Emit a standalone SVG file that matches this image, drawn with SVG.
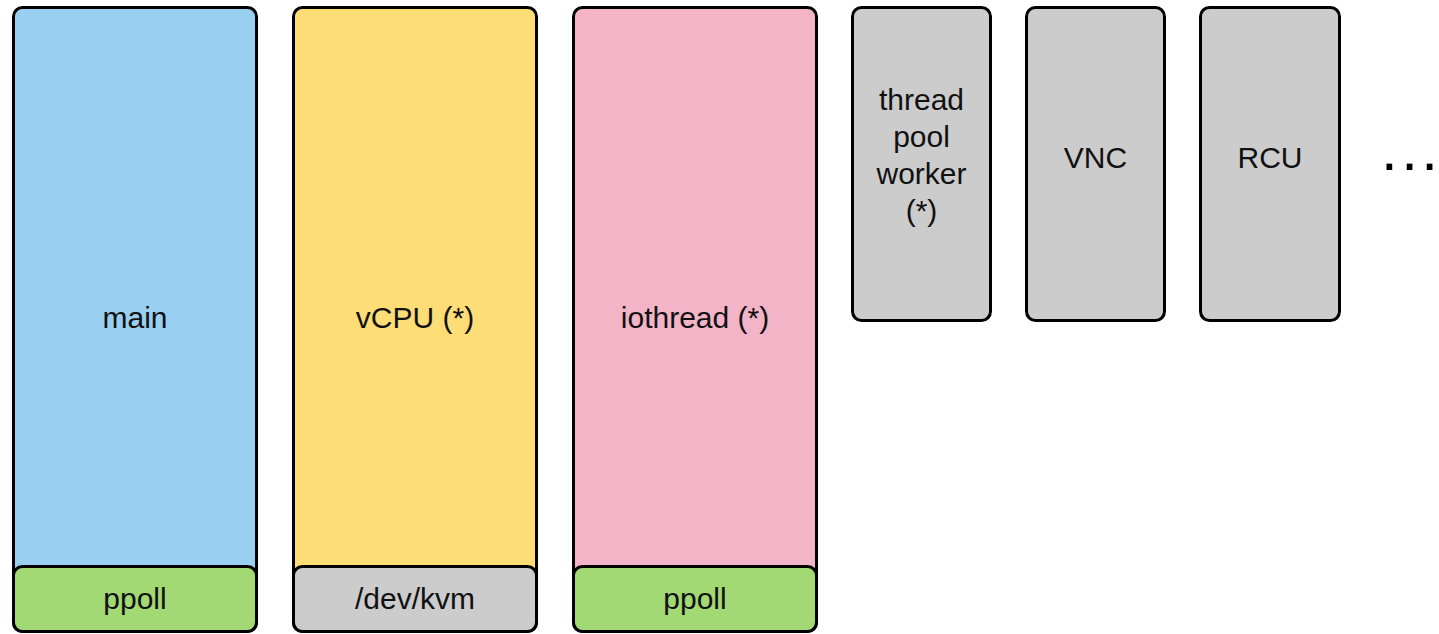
<svg xmlns="http://www.w3.org/2000/svg" width="1439" height="634" viewBox="0 0 1439 634">
  <style>
    .box { stroke: #000; stroke-width: 3; }
    .blue { fill: #99d0f2; }
    .yellow { fill: #fedd77; }
    .pink { fill: #f3b4c8; }
    .green { fill: #a2d975; }
    .grey { fill: #cccccc; }
    text { font-family: "Liberation Sans", Arial, sans-serif; font-size: 30px; fill: #111; text-anchor: middle; }
  </style>
  <rect width="1439" height="634" fill="#fff"/>

  <g id="main">
    <rect class="box blue" x="13.5" y="7.5" width="243" height="624" rx="9"/>
    <rect class="box green" x="13.5" y="566.5" width="243" height="65" rx="9"/>
    <text x="135" y="328">main</text>
    <text x="135" y="609">ppoll</text>
  </g>

  <g id="vcpu">
    <rect class="box yellow" x="293.5" y="7.5" width="243" height="624" rx="9"/>
    <rect class="box grey" x="293.5" y="566.5" width="243" height="65" rx="9"/>
    <text x="415" y="328">vCPU (*)</text>
    <text x="415" y="609">/dev/kvm</text>
  </g>

  <g id="iothread">
    <rect class="box pink" x="573.5" y="7.5" width="243" height="624" rx="9"/>
    <rect class="box green" x="573.5" y="566.5" width="243" height="65" rx="9"/>
    <text x="695" y="328">iothread (*)</text>
    <text x="695" y="609">ppoll</text>
  </g>

  <g id="thread-pool-worker">
    <rect class="box grey" x="852.5" y="7.5" width="138" height="313" rx="9"/>
    <text x="921.5" y="110">thread</text>
    <text x="921.5" y="147">pool</text>
    <text x="921.5" y="184">worker</text>
    <text x="921.5" y="221">(*)</text>
  </g>

  <g id="vnc">
    <rect class="box grey" x="1026.5" y="7.5" width="138" height="313" rx="9"/>
    <text x="1095.5" y="168">VNC</text>
  </g>

  <g id="rcu">
    <rect class="box grey" x="1200.5" y="7.5" width="139" height="313" rx="9"/>
    <text x="1270" y="168">RCU</text>
  </g>

  <g id="more">
    <text x="1381" y="170" style="font-size:60px; letter-spacing:3.5px; fill:#000; text-anchor:start">...</text>
  </g>

  <g id="connectors"/>
</svg>
